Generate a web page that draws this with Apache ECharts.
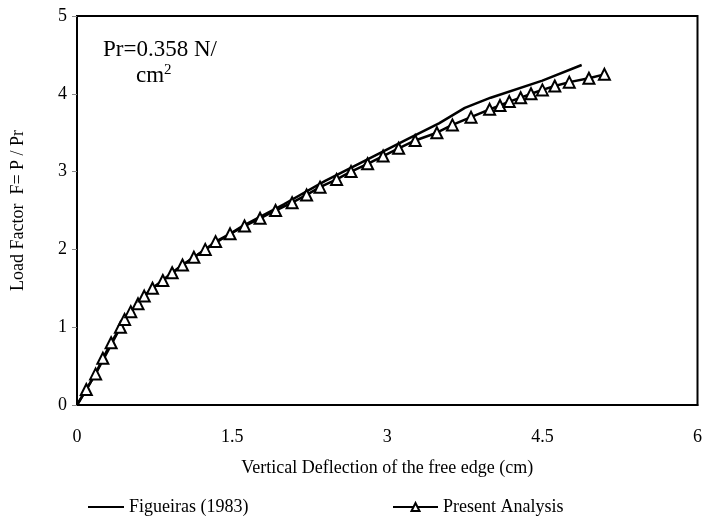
<!DOCTYPE html>
<html>
<head>
<meta charset="utf-8">
<script src="https://cdn.jsdelivr.net/npm/echarts@6/dist/echarts.min.js"></script>
<style>html,body{margin:0;padding:0;background:#fff;}#c{width:705px;height:527px;}</style>
</head>
<body>
<div id="c"></div>
<script>
var figX = [0, 0.1, 0.2, 0.3, 0.4, 0.5, 0.7, 1.0, 1.3, 1.6, 2.0, 2.4, 2.8, 3.2, 3.5, 3.75, 4.0, 4.5, 4.88];
var figY = [0, 0.22, 0.45, 0.7, 0.95, 1.17, 1.47, 1.78, 2.05, 2.3, 2.58, 2.88, 3.15, 3.42, 3.62, 3.82, 3.95, 4.17, 4.37];
var presX = [0, 0.09, 0.18, 0.25, 0.33, 0.42, 0.46, 0.52, 0.59, 0.65, 0.73, 0.83, 0.92, 1.02, 1.13, 1.24, 1.34, 1.48, 1.62, 1.77, 1.92, 2.08, 2.22, 2.35, 2.51, 2.65, 2.81, 2.96, 3.11, 3.27, 3.48, 3.63, 3.81, 3.99, 4.09, 4.18, 4.29, 4.39, 4.5, 4.62, 4.76, 4.95, 5.10];
var presY = [0, 0.2, 0.4, 0.6, 0.8, 1.0, 1.1, 1.2, 1.3, 1.4, 1.5, 1.6, 1.7, 1.8, 1.9, 2.0, 2.1, 2.2, 2.3, 2.4, 2.5, 2.6, 2.7, 2.8, 2.9, 3.0, 3.1, 3.2, 3.3, 3.4, 3.5, 3.6, 3.7, 3.8, 3.85, 3.9, 3.95, 4.0, 4.05, 4.1, 4.15, 4.2, 4.25];
var seriesNames = ['Figueiras (1983)', 'Present Analysis'];
var xTitle = 'Vertical Deflection of the free edge (cm)';
var yTitle = 'Load Factor  F= P / Pr';

var font = 'Liberation Serif, Times New Roman, serif';
var figData = figX.map(function (x, i) { return [x, figY[i]]; });
var presData = presX.map(function (x, i) {
  var d = { value: [x, presY[i]] };
  if (i === 0) d.symbol = 'none';
  return d;
});
var legendText = { fontFamily: font, fontSize: 18, color: '#000' };

var chart = echarts.init(document.getElementById('c'));
chart.setOption({
  backgroundColor: '#fff',
  animation: false,
  grid: { left: 77, right: 3, top: 16, bottom: 122, show: true, borderColor: '#000', borderWidth: 2, backgroundColor: 'transparent' },
  xAxis: {
    type: 'value', min: 0, max: 6, interval: 1.5,
    name: xTitle, nameLocation: 'middle', nameGap: 54,
    nameTextStyle: { fontFamily: font, fontSize: 18, color: '#000' },
    axisLine: { show: true, lineStyle: { color: '#000', width: 2 } },
    axisTick: { show: false },
    axisLabel: { fontFamily: font, fontSize: 18, color: '#000', margin: 23 },
    splitLine: { show: false }
  },
  yAxis: {
    type: 'value', min: 0, max: 5, interval: 1,
    name: yTitle, nameLocation: 'middle', nameGap: 50,
    nameTextStyle: { fontFamily: font, fontSize: 18, color: '#000' },
    axisLine: { show: true, lineStyle: { color: '#000', width: 2 } },
    axisTick: { show: true, length: 5, lineStyle: { color: '#888', width: 1 } },
    axisLabel: { fontFamily: font, fontSize: 18, color: '#000', margin: 10 },
    splitLine: { show: false }
  },
  legend: [
    {
      bottom: 6, left: 82, itemWidth: 36, itemHeight: 10, textStyle: legendText,
      data: [{ name: seriesNames[0], itemStyle: { opacity: 0 } }]
    },
    {
      bottom: 6, left: 387, itemWidth: 45, itemHeight: 10, textStyle: legendText,
      data: [{ name: seriesNames[1] }]
    }
  ],
  graphic: [
    { type: 'text', left: 103, top: 38, style: { text: 'Pr=0.358 N/', font: '23px ' + font, fill: '#000' } },
    { type: 'text', left: 136, top: 63, style: {
      text: '{a|cm}{s|2}',
      rich: {
        a: { fontFamily: font, fontSize: 23, fill: '#000', color: '#000' },
        s: { fontFamily: font, fontSize: 15, fill: '#000', color: '#000', verticalAlign: 'top', padding: [0, 0, 10, 0] }
      }
    } }
  ],
  series: [
    {
      name: seriesNames[0], type: 'line', data: figData,
      symbol: 'none', lineStyle: { color: '#000', width: 2.5 }, itemStyle: { color: '#000' }
    },
    {
      name: seriesNames[1], type: 'line', data: presData,
      symbol: 'triangle', symbolSize: 11,
      lineStyle: { color: '#000', width: 2.5 },
      itemStyle: { color: '#fff', borderColor: '#000', borderWidth: 2 }
    }
  ]
});
</script>
</body>
</html>
